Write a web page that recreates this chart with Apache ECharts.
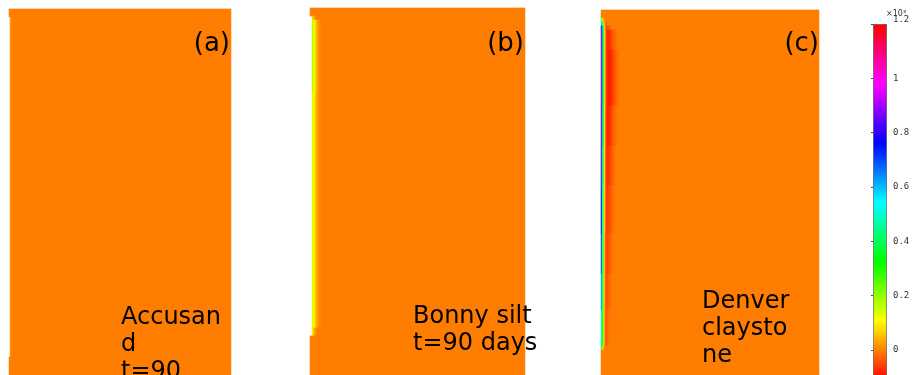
<!DOCTYPE html>
<html>
<head>
<meta charset="utf-8">
<script src="https://cdn.jsdelivr.net/npm/echarts@6/dist/echarts.min.js"></script>
<style>
html,body{margin:0;padding:0;background:#ffffff;overflow:hidden}
#chart{width:916px;height:375px}
</style>
</head>
<body>
<div id="chart"></div>
<script>
// ---------- colour scale (x10^3) ----------
const scaleMin = -0.109;
const scaleMax = 1.2;
const scaleColors = ['#ff0000', '#ffff00', '#00ff00', '#00ffff', '#0000ff', '#ff00ff', '#ff0000'];
const tickMin = -0.2;
const tickMax = 1.2;
const tickStep = 0.2;
const scaleUnit = '×10³';

// ---------- panel texts ----------
const panelTags = ['(a)', '(b)', '(c)'];
const panelNames = ['Accusan\nd\nt=90', 'Bonny silt\nt=90 days', 'Denver\nclaysto\nne'];

// ---------- field resolution (columns across, rows down) ----------
const fieldCols = [222, 215, 218];
const fieldRows = [92, 92, 92];
const baseValue = 0;

// ---------- (a) Accusand: value profiles from the wall outward ----------
const accusandSegStart = [0, 2, 87];
const accusandEnd = [0];
const accusandWall = [null, 0.02, 0.01, 0.005];

// ---------- (b) Bonny silt ----------
const bonnySegStart = [0, 2, 3, 21, 80, 82];
const bonnyEnd = [0];
const bonnyTop = [null, null, 0.08, 0.05, 0.025, 0.01];
const bonnyUpper = [null, null, 0.17, 0.15, 0.12, 0.085, 0.055, 0.035, 0.02, 0.012, 0.006, 0.003];
const bonnyMain = [null, null, 0.14, 0.13, 0.1, 0.07, 0.045, 0.03, 0.018, 0.01, 0.005, 0.002];
const bonnyBottom = [null, null, 0.1, 0.07, 0.04, 0.02, 0.01];

// ---------- (c) Denver claystone ----------
const denverSegStart = [0, 2, 3, 4, 5, 10, 24, 34, 44, 56, 66, 75, 84, 85];
const denverEnd = [0];
const denverTip1 = [0.25, 0.15, 0.06, 0];
const denverTip2 = [0.55, 0.4, 0.22, 0.08, -0.02, -0.03];
const denverTip3 = [0.8, 0.6, 0.35, 0.15, 0, -0.05, -0.05, -0.04, -0.03, -0.02];
const denverTop = [0.86, 0.62, 0.34, 0.14, 0.02, -0.05, -0.07, -0.075, -0.07, -0.06, -0.05, -0.04, -0.03, -0.022, -0.015, -0.01, -0.005];
const denverUpper = [0.88, 0.62, 0.34, 0.14, 0.02, -0.05, -0.075, -0.085, -0.085, -0.08, -0.07, -0.06, -0.05, -0.04, -0.03, -0.022, -0.015, -0.01, -0.005, -0.002];
const denverUpperMid = [0.85, 0.6, 0.32, 0.13, 0.01, -0.055, -0.075, -0.078, -0.072, -0.062, -0.05, -0.04, -0.03, -0.022, -0.015, -0.009, -0.004];
const denverMid = [0.82, 0.56, 0.3, 0.12, 0, -0.055, -0.068, -0.065, -0.057, -0.047, -0.037, -0.028, -0.02, -0.013, -0.007, -0.003];
const denverMidLow = [0.77, 0.52, 0.28, 0.1, -0.01, -0.05, -0.058, -0.052, -0.044, -0.035, -0.027, -0.019, -0.012, -0.006, -0.002];
const denverLow = [0.7, 0.48, 0.26, 0.08, -0.02, -0.045, -0.048, -0.04, -0.032, -0.024, -0.016, -0.009, -0.004];
const denverLower = [0.62, 0.42, 0.22, 0.07, -0.02, -0.038, -0.036, -0.028, -0.02, -0.012, -0.006, -0.002];
const denverDeep = [0.52, 0.36, 0.18, 0.05, -0.02, -0.03, -0.022, -0.014, -0.007, -0.003];
const denverTip4 = [0.3, 0.18, 0.06, 0];

const panelSegStarts = [accusandSegStart, bonnySegStart, denverSegStart];
const panelSegProfiles = [
  [accusandEnd, accusandWall, accusandEnd],
  [bonnyEnd, bonnyTop, bonnyUpper, bonnyMain, bonnyBottom, bonnyEnd],
  [denverEnd, denverTip1, denverTip2, denverTip3, denverTop, denverUpper, denverUpperMid, denverMid, denverMidLow, denverLow, denverLower, denverDeep, denverTip4, denverEnd]
];

// ---------- layout (styles only) ----------
const panelBoxes = [
  { left: 9, top: 9, width: 222 },
  { left: 310, top: 8, width: 215 },
  { left: 601, top: 10, width: 218 }
];
const rowPx = 4;

function pickProfile(starts, profiles, r) {
  let p = profiles[0];
  for (let i = 0; i < starts.length; i++) if (r >= starts[i]) p = profiles[i];
  return p;
}
function buildField(k) {
  const out = [];
  for (let r = 0; r < fieldRows[k]; r++) {
    const p = pickProfile(panelSegStarts[k], panelSegProfiles[k], r);
    for (let c = 0; c < fieldCols[k]; c++) {
      const v = c < p.length ? p[c] : baseValue;
      if (v !== null) out.push([c, r, v]);
    }
  }
  return out;
}

const grids = [], xAxes = [], yAxes = [], series = [];
for (let k = 0; k < 3; k++) {
  const b = panelBoxes[k];
  grids.push({ left: b.left, top: b.top, width: b.width, height: fieldRows[k] * rowPx, show: false, containLabel: false, outerBoundsMode: 'none' });
  xAxes.push({ gridIndex: k, type: 'category', show: false, data: Array.from({ length: fieldCols[k] }, (_, i) => i) });
  yAxes.push({ gridIndex: k, type: 'category', show: false, inverse: true, data: Array.from({ length: fieldRows[k] }, (_, i) => i) });
  series.push({
    type: 'heatmap', xAxisIndex: k, yAxisIndex: k, data: buildField(k),
    progressive: 0, silent: true, emphasis: { disabled: true }, itemStyle: { borderWidth: 0 }
  });
}
// colour bar tick axis
const pxPerUnit = 326 / 1.2;
grids.push({ left: 873, top: 24, width: 13, height: (tickMax - tickMin) * pxPerUnit, show: false, containLabel: false, outerBoundsMode: 'none' });
xAxes.push({ gridIndex: 3, type: 'value', show: false, min: 0, max: 1 });
yAxes.push({
  gridIndex: 3, type: 'value', position: 'right', min: tickMin, max: tickMax, interval: tickStep,
  axisLine: { show: false }, axisTick: { show: false }, splitLine: { show: false },
  axisLabel: { fontFamily: 'DejaVu Sans Mono', fontSize: 9, color: '#333', margin: 7, verticalAlignMaxLabel: 'bottom' }
});
yAxes.push({
  gridIndex: 3, type: 'value', position: 'left', min: tickMin, max: tickMax, interval: tickStep,
  axisLine: { show: false }, axisLabel: { show: false }, splitLine: { show: false },
  axisTick: { show: true, length: 2, lineStyle: { color: '#444', width: 1 } }
});

const graphics = [];
const tagRight = [230, 524, 819];
for (let k = 0; k < 3; k++) {
  graphics.push({
    type: 'text', right: 916 - tagRight[k], top: 31, silent: true, z: 100,
    style: { text: panelTags[k], font: '26px "DejaVu Sans"', fill: '#000', lineHeight: 27 }
  });
}
const nameLeft = [121, 413, 702];
const nameTop = [304, 303, 288];
for (let k = 0; k < 3; k++) {
  graphics.push({
    type: 'text', left: nameLeft[k], top: nameTop[k], silent: true, z: 100,
    style: { text: panelNames[k], font: '24px "DejaVu Sans"', fill: '#000', lineHeight: 27 }
  });
}
graphics.push({
  type: 'text', left: 886, top: 9, silent: true, z: 100,
  style: { text: scaleUnit, font: '8px "DejaVu Sans"', fill: '#333', lineHeight: 9 }
});

const chart = echarts.init(document.getElementById('chart'), null, { renderer: 'canvas' });
chart.setOption({
  animation: false,
  backgroundColor: '#ffffff',
  grid: grids,
  xAxis: xAxes,
  yAxis: yAxes,
  visualMap: {
    type: 'continuous', min: scaleMin, max: scaleMax, seriesIndex: [0, 1, 2], dimension: 2,
    orient: 'vertical', left: 873, top: 24, itemWidth: 13, itemHeight: (scaleMax - scaleMin) * pxPerUnit,
    calculable: false, hoverLink: false, padding: 0, text: null,
    borderColor: '#555', borderWidth: 1,
    inRange: { color: scaleColors }
  },
  graphic: { elements: graphics },
  series: series
});
</script>
</body>
</html>
